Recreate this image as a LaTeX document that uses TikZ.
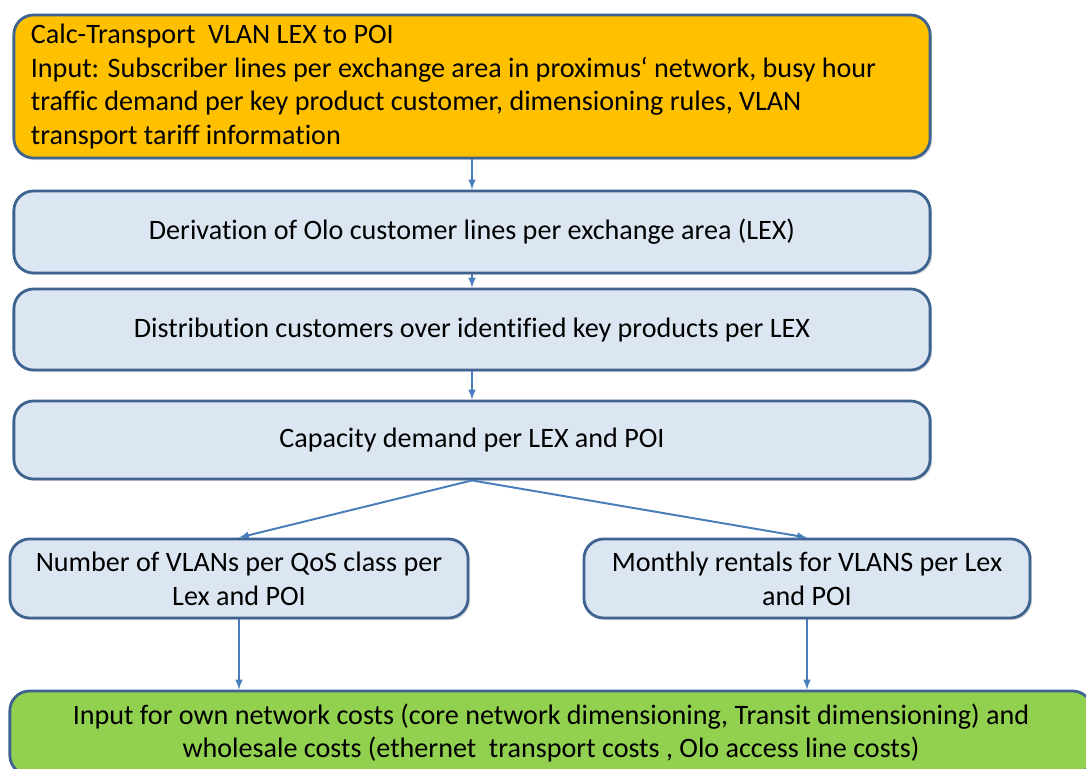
\documentclass[tikz,border=0pt]{standalone}
\usepackage{fontspec}
\setmainfont[RawFeature=-liga]{Carlito}
\usetikzlibrary{shadows}
\definecolor{boxline}{HTML}{3F6390}
\definecolor{arrowblue}{HTML}{4A7EBB}
\definecolor{inorange}{HTML}{FFC000}
\definecolor{steplight}{HTML}{DCE6F2}
\definecolor{outgreen}{HTML}{92D050}
\tikzset{
  flowbox/.style={draw=boxline, line width=2pt, rounded corners=14pt,
    fill=steplight, align=center, inner sep=0pt,
    drop shadow={shadow xshift=1.5pt, shadow yshift=-1.5pt, opacity=0.25},
    font=\fontsize{20}{24.1}\selectfont},
  flowarrow/.style={draw=arrowblue, line width=1.4pt, -latex},
}
\begin{document}
\begin{tikzpicture}[x=0.025cm, y=-0.025cm]
  \useasboundingbox (0,0) rectangle (1086,769);
  % Input
  \node[flowbox, fill=inorange, minimum width=22.9cm, minimum height=3.575cm,
        text width=22.05cm, align=flush left] (calc) at (472,86.5)
    {Calc-Transport\hspace{0.45em}VLAN LEX to POI\\
     Input: Subscriber lines per exchange area in proximus‘ network, busy hour\\
     traffic demand per key product customer, dimensioning rules, VLAN\\
     transport tariff information};

  % Steps
  \node[flowbox, minimum width=22.9cm, minimum height=2.05cm] (olo) at (472,232)
    {Derivation of Olo customer lines per exchange area (LEX)};
  \node[flowbox, minimum width=22.9cm, minimum height=2.025cm] (dist) at (472,329.5)
    {Distribution customers over identified key products per LEX};
  \node[flowbox, minimum width=22.9cm, minimum height=1.95cm] (cap) at (472,440)
    {Capacity demand per LEX and POI};

  % Results
  \node[flowbox, minimum width=11.45cm, minimum height=1.975cm] (vlans) at (239,578.5)
    {Number of VLANs per QoS class per\\ Lex and POI};
  \node[flowbox, minimum width=11.15cm, minimum height=1.975cm] (rent) at (807,578.5)
    {Monthly rentals for VLANS per Lex\\ and POI};

  % Output
  \node[flowbox, fill=outgreen, minimum width=27.05cm, minimum height=2.1cm] (cost) at (551,733)
    {Input for own network costs (core network dimensioning, Transit dimensioning) and\\
     wholesale costs (ethernet\hspace{0.45em}transport costs , Olo access line costs)};

  % Connectors
  \draw[flowarrow] (calc.south) -- (olo.north);
  \draw[flowarrow] (olo.south) -- (dist.north);
  \draw[flowarrow] (dist.south) -- (cap.north);
  \draw[flowarrow] (cap.south) -- (vlans.north);
  \draw[flowarrow] (cap.south) -- (rent.north);
  \draw[flowarrow] (vlans.south) -- (vlans.south |- cost.north);
  \draw[flowarrow] (rent.south) -- (rent.south |- cost.north);
\end{tikzpicture}
\end{document}
